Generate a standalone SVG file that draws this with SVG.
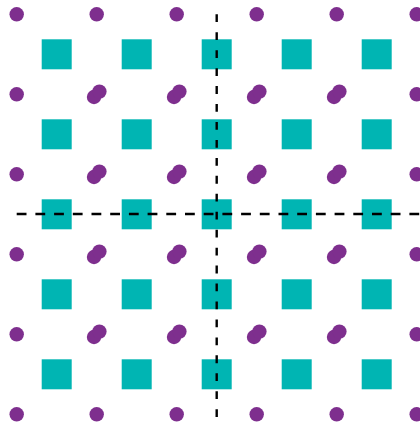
<svg xmlns="http://www.w3.org/2000/svg" xmlns:xlink="http://www.w3.org/1999/xlink" width="420" height="424" viewBox="0 0 420 424">
<style>
.sq{fill:#00b5b3}
.dt{fill:#7e2f8e}
.ax{stroke:#000;stroke-width:2.4;fill:none}
</style>
<defs>
<rect id="s" class="sq" x="-15" y="-15" width="30" height="30"/>
<circle id="d" class="dt" r="7.2"/>
<g id="dd" class="dt"><circle cx="-2.7" cy="2.7" r="7.2"/><circle cx="2.7" cy="-2.7" r="7.2"/></g>
</defs>
<rect width="420" height="424" fill="#fff"/>
<g id="squares">
<use xlink:href="#s" x="56.7" y="54.3"/><use xlink:href="#s" x="136.7" y="54.3"/><use xlink:href="#s" x="216.7" y="54.3"/><use xlink:href="#s" x="296.7" y="54.3"/><use xlink:href="#s" x="376.7" y="54.3"/>
<use xlink:href="#s" x="56.7" y="134.3"/><use xlink:href="#s" x="136.7" y="134.3"/><use xlink:href="#s" x="216.7" y="134.3"/><use xlink:href="#s" x="296.7" y="134.3"/><use xlink:href="#s" x="376.7" y="134.3"/>
<use xlink:href="#s" x="56.7" y="214.3"/><use xlink:href="#s" x="136.7" y="214.3"/><use xlink:href="#s" x="216.7" y="214.3"/><use xlink:href="#s" x="296.7" y="214.3"/><use xlink:href="#s" x="376.7" y="214.3"/>
<use xlink:href="#s" x="56.7" y="294.3"/><use xlink:href="#s" x="136.7" y="294.3"/><use xlink:href="#s" x="216.7" y="294.3"/><use xlink:href="#s" x="296.7" y="294.3"/><use xlink:href="#s" x="376.7" y="294.3"/>
<use xlink:href="#s" x="56.7" y="374.3"/><use xlink:href="#s" x="136.7" y="374.3"/><use xlink:href="#s" x="216.7" y="374.3"/><use xlink:href="#s" x="296.7" y="374.3"/><use xlink:href="#s" x="376.7" y="374.3"/>
</g>
<g id="dots">
<use xlink:href="#d" x="16.7" y="14.3"/><use xlink:href="#d" x="96.7" y="14.3"/><use xlink:href="#d" x="176.7" y="14.3"/><use xlink:href="#d" x="256.7" y="14.3"/><use xlink:href="#d" x="336.7" y="14.3"/><use xlink:href="#d" x="416.7" y="14.3"/>
<use xlink:href="#d" x="16.7" y="94.3"/><use xlink:href="#dd" x="96.7" y="94.3"/><use xlink:href="#dd" x="176.7" y="94.3"/><use xlink:href="#dd" x="256.7" y="94.3"/><use xlink:href="#dd" x="336.7" y="94.3"/><use xlink:href="#d" x="416.7" y="94.3"/>
<use xlink:href="#d" x="16.7" y="174.3"/><use xlink:href="#dd" x="96.7" y="174.3"/><use xlink:href="#dd" x="176.7" y="174.3"/><use xlink:href="#dd" x="256.7" y="174.3"/><use xlink:href="#dd" x="336.7" y="174.3"/><use xlink:href="#d" x="416.7" y="174.3"/>
<use xlink:href="#d" x="16.7" y="254.3"/><use xlink:href="#dd" x="96.7" y="254.3"/><use xlink:href="#dd" x="176.7" y="254.3"/><use xlink:href="#dd" x="256.7" y="254.3"/><use xlink:href="#dd" x="336.7" y="254.3"/><use xlink:href="#d" x="416.7" y="254.3"/>
<use xlink:href="#d" x="16.7" y="334.3"/><use xlink:href="#dd" x="96.7" y="334.3"/><use xlink:href="#dd" x="176.7" y="334.3"/><use xlink:href="#dd" x="256.7" y="334.3"/><use xlink:href="#dd" x="336.7" y="334.3"/><use xlink:href="#d" x="416.7" y="334.3"/>
<use xlink:href="#d" x="16.7" y="414.3"/><use xlink:href="#d" x="96.7" y="414.3"/><use xlink:href="#d" x="176.7" y="414.3"/><use xlink:href="#d" x="256.7" y="414.3"/><use xlink:href="#d" x="336.7" y="414.3"/><use xlink:href="#d" x="416.7" y="414.3"/>
</g>
<g id="connectors">
<line class="ax" x1="216.7" y1="14.3" x2="216.7" y2="418" stroke-dasharray="7.8 10.15"/>
<line class="ax" x1="16.7" y1="214" x2="420" y2="214" stroke-dasharray="9.8 8.9"/>
</g>
</svg>
